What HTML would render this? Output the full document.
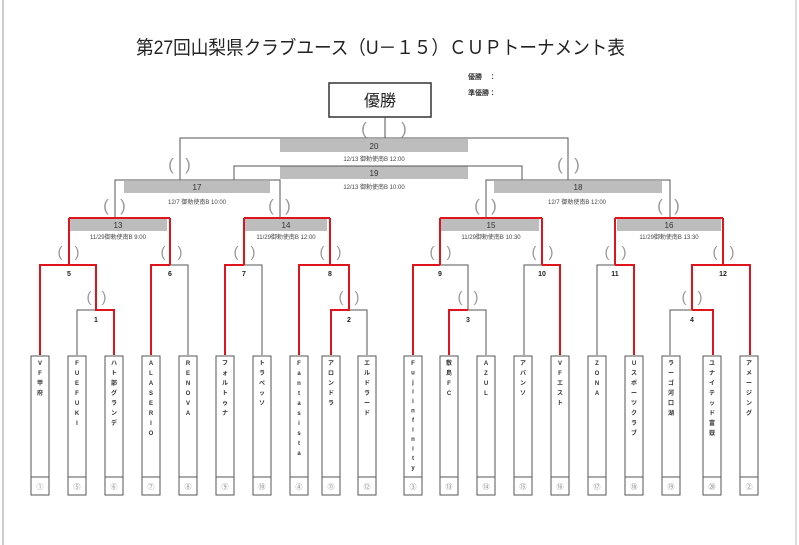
<!DOCTYPE html>
<html><head><meta charset="utf-8"><style>
html,body{margin:0;padding:0;background:#fff;}
svg{display:block;}
text{font-family:"Liberation Sans","Noto Sans CJK JP",sans-serif;}
</style></head><body>
<svg width="799" height="545" viewBox="0 0 799 545" xmlns="http://www.w3.org/2000/svg">
<rect x="0" y="0" width="799" height="545" fill="#fff"/>
<line x1="3" y1="0" x2="3" y2="545" stroke="#ccc" stroke-width="2"/>
<line x1="796" y1="0" x2="796" y2="545" stroke="#ddd" stroke-width="2"/>
<text x="136" y="54" font-size="19" textLength="489" lengthAdjust="spacingAndGlyphs" fill="#222">第27回山梨県クラブユース（U－１５）ＣＵＰトーナメント表</text>
<text x="468" y="79" font-size="7" font-weight="bold" fill="#333">優勝　：</text>
<text x="468" y="95" font-size="7" font-weight="bold" fill="#333">準優勝：</text>
<rect x="329" y="83" width="102" height="34" fill="#fff" stroke="#333" stroke-width="1.5"/>
<text x="380" y="106" font-size="16" text-anchor="middle" fill="#222">優勝</text>

<!-- bars -->
<g fill="#bdbdbd">
<rect x="280" y="139" width="188" height="13"/>
<rect x="280" y="166" width="188" height="13"/>
<rect x="124" y="181" width="146" height="12"/>
<rect x="494" y="181" width="168" height="12"/>
<rect x="70" y="219" width="97" height="12"/>
<rect x="245" y="219" width="82" height="12"/>
<rect x="441" y="219" width="98" height="12"/>
<rect x="617" y="219" width="104" height="12"/>
</g>
<g font-size="8" fill="#333" text-anchor="middle">
<text x="374" y="149">20</text>
<text x="374" y="176">19</text>
<text x="197" y="190">17</text>
<text x="578" y="190">18</text>
<text x="118" y="228">13</text>
<text x="286" y="228">14</text>
<text x="491" y="228">15</text>
<text x="669" y="228">16</text>
</g>
<g font-size="6" fill="#444" text-anchor="middle">
<text x="374" y="161">12/13 御勅使南B 12:00</text>
<text x="374" y="189">12/13 御勅使南B 10:00</text>
<text x="197" y="204">12/7 御勅使南B 10:00</text>
<text x="577" y="204">12/7 御勅使南B 12:00</text>
<text x="118" y="239">11/29御勅使南B 9:00</text>
<text x="286" y="239">11/29御勅使南B 12:00</text>
<text x="491" y="239">11/29御勅使南B 10:30</text>
<text x="669" y="239">11/29御勅使南B 13:30</text>
</g>
<g font-size="7" font-weight="bold" fill="#222" text-anchor="middle">
<text x="69" y="276">5</text><text x="96" y="322">1</text>
<text x="170" y="276">6</text><text x="244" y="276">7</text>
<text x="330" y="276">8</text><text x="349" y="322">2</text>
<text x="440" y="276">9</text><text x="468" y="322">3</text>
<text x="542" y="276">10</text><text x="615" y="276">11</text>
<text x="723" y="276">12</text><text x="692" y="322">4</text>
</g>

<!-- grey lines -->
<g stroke="#555" stroke-width="1" fill="none">
<path d="M385 117V138M180 180V138H568V180"/>
<path d="M234 180V166H522V180"/>
<path d="M115 218V180H280V218"/>
<path d="M486 218V180H670V218"/>
<path d="M77 355V310H96"/>
<path d="M170 265H188V355"/>
<path d="M244 265H262V355"/>
<path d="M349 310H367V355"/>
<path d="M440 265H468V310H486V355"/>
<path d="M524 355V265H542"/>
<path d="M597 355V265H615"/>
<path d="M670 355V310H692"/>
</g>
<!-- red lines -->
<g stroke="#e0141c" stroke-width="2" fill="none">
<path d="M69 218H170M69 218V265M170 218V265"/>
<path d="M244 218H330M244 218V265M330 218V265"/>
<path d="M440 218H542M440 218V265M542 218V265"/>
<path d="M615 218H723M615 218V265M723 218V265"/>
<path d="M40 355V265H96V310H114V355"/>
<path d="M151 355V265H170"/>
<path d="M225 355V265H244"/>
<path d="M299 355V265H349V310H331V355"/>
<path d="M413 355V265H440"/>
<path d="M449 355V310H468"/>
<path d="M542 265H560V355"/>
<path d="M615 265H634V355"/>
<path d="M692 310V265H750V355"/>
<path d="M692 310H713V355"/>
</g>

<!-- brackets -->
<g font-size="17" fill="#999" text-anchor="middle">
<text x="364" y="134">(</text><text x="404" y="134">)</text>
<text x="171" y="170">(</text><text x="188" y="170">)</text>
<text x="560" y="170">(</text><text x="577" y="170">)</text>
<text x="106" y="211">(</text><text x="123" y="211">)</text>
<text x="271" y="211">(</text><text x="288" y="211">)</text>
<text x="477" y="211">(</text><text x="494" y="211">)</text>
<text x="660" y="211">(</text><text x="677" y="211">)</text>
<g font-size="15">
<text x="60" y="257">(</text><text x="77" y="257">)</text>
<text x="163" y="257">(</text><text x="180" y="257">)</text>
<text x="236" y="257">(</text><text x="253" y="257">)</text>
<text x="322" y="257">(</text><text x="339" y="257">)</text>
<text x="432" y="257">(</text><text x="449" y="257">)</text>
<text x="534" y="257">(</text><text x="551" y="257">)</text>
<text x="607" y="257">(</text><text x="624" y="257">)</text>
<text x="715" y="257">(</text><text x="732" y="257">)</text>
<text x="89" y="302">(</text><text x="104" y="302">)</text>
<text x="341" y="302">(</text><text x="357" y="302">)</text>
<text x="460" y="302">(</text><text x="476" y="302">)</text>
<text x="684" y="302">(</text><text x="700" y="302">)</text>
</g>
</g>

<!-- team boxes -->
<g stroke="#555" stroke-width="1" fill="#fff">
<rect x="31" y="356" width="18" height="139"/><rect x="68" y="356" width="18" height="139"/>
<rect x="105" y="356" width="18" height="139"/><rect x="142" y="356" width="18" height="139"/>
<rect x="179" y="356" width="18" height="139"/><rect x="216" y="356" width="18" height="139"/>
<rect x="253" y="356" width="18" height="139"/><rect x="290" y="356" width="18" height="139"/>
<rect x="322" y="356" width="18" height="139"/><rect x="358" y="356" width="18" height="139"/>
<rect x="404" y="356" width="18" height="139"/><rect x="440" y="356" width="18" height="139"/>
<rect x="477" y="356" width="18" height="139"/><rect x="514" y="356" width="18" height="139"/>
<rect x="551" y="356" width="18" height="139"/><rect x="588" y="356" width="18" height="139"/>
<rect x="625" y="356" width="18" height="139"/><rect x="662" y="356" width="18" height="139"/>
<rect x="703" y="356" width="18" height="139"/><rect x="740" y="356" width="18" height="139"/>
</g>
<g stroke="#555" stroke-width="1">
<path d="M31 477H49M68 477H86M105 477H123M142 477H160M179 477H197M216 477H234M253 477H271M290 477H308M322 477H340M358 477H376M404 477H422M440 477H458M477 477H495M514 477H532M551 477H569M588 477H606M625 477H643M662 477H680M703 477H721M740 477H758"/>
</g>
<g font-size="7" fill="#888" text-anchor="middle">
<text x="40" y="489">①</text><text x="77" y="489">⑤</text><text x="114" y="489">⑥</text><text x="151" y="489">⑦</text><text x="188" y="489">⑧</text>
<text x="225" y="489">⑨</text><text x="262" y="489">⑩</text><text x="299" y="489">④</text><text x="331" y="489">⑪</text><text x="367" y="489">⑫</text>
<text x="413" y="489">③</text><text x="449" y="489">⑬</text><text x="486" y="489">⑭</text><text x="523" y="489">⑮</text><text x="560" y="489">⑯</text>
<text x="597" y="489">⑰</text><text x="634" y="489">⑱</text><text x="671" y="489">⑲</text><text x="712" y="489">⑳</text><text x="749" y="489">②</text>
</g>
<g font-size="6" font-weight="bold" fill="#333" text-anchor="middle">
<text x="40" y="365"><tspan x="40">V</tspan><tspan x="40" dy="10">F</tspan><tspan x="40" dy="10">甲</tspan><tspan x="40" dy="10">府</tspan></text>
<text y="365"><tspan x="77">F</tspan><tspan x="77" dy="10">U</tspan><tspan x="77" dy="10">E</tspan><tspan x="77" dy="10">F</tspan><tspan x="77" dy="10">U</tspan><tspan x="77" dy="10">K</tspan><tspan x="77" dy="10">I</tspan></text>
<text y="365"><tspan x="114">ハ</tspan><tspan x="114" dy="10">ト</tspan><tspan x="114" dy="10">部</tspan><tspan x="114" dy="10">グ</tspan><tspan x="114" dy="10">ラ</tspan><tspan x="114" dy="10">ン</tspan><tspan x="114" dy="10">デ</tspan></text>
<text y="365"><tspan x="151">A</tspan><tspan x="151" dy="10">L</tspan><tspan x="151" dy="10">A</tspan><tspan x="151" dy="10">S</tspan><tspan x="151" dy="10">E</tspan><tspan x="151" dy="10">R</tspan><tspan x="151" dy="10">I</tspan><tspan x="151" dy="10">O</tspan></text>
<text y="365"><tspan x="188">R</tspan><tspan x="188" dy="10">E</tspan><tspan x="188" dy="10">N</tspan><tspan x="188" dy="10">O</tspan><tspan x="188" dy="10">V</tspan><tspan x="188" dy="10">A</tspan></text>
<text y="365"><tspan x="225">フ</tspan><tspan x="225" dy="10">ォ</tspan><tspan x="225" dy="10">ル</tspan><tspan x="225" dy="10">ト</tspan><tspan x="225" dy="10">ゥ</tspan><tspan x="225" dy="10">ナ</tspan></text>
<text y="365"><tspan x="262">ト</tspan><tspan x="262" dy="10">ラ</tspan><tspan x="262" dy="10">ベ</tspan><tspan x="262" dy="10">ッ</tspan><tspan x="262" dy="10">ソ</tspan></text>
<text y="365"><tspan x="299">F</tspan><tspan x="299" dy="10">a</tspan><tspan x="299" dy="10">n</tspan><tspan x="299" dy="10">t</tspan><tspan x="299" dy="10">a</tspan><tspan x="299" dy="10">s</tspan><tspan x="299" dy="10">i</tspan><tspan x="299" dy="10">s</tspan><tspan x="299" dy="10">t</tspan><tspan x="299" dy="10">a</tspan></text>
<text y="365"><tspan x="331">ア</tspan><tspan x="331" dy="10">ロ</tspan><tspan x="331" dy="10">ン</tspan><tspan x="331" dy="10">ド</tspan><tspan x="331" dy="10">ラ</tspan></text>
<text y="365"><tspan x="367">エ</tspan><tspan x="367" dy="10">ル</tspan><tspan x="367" dy="10">ド</tspan><tspan x="367" dy="10">ラ</tspan><tspan x="367" dy="10">ー</tspan><tspan x="367" dy="10">ド</tspan></text>
<text y="365"><tspan x="413">F</tspan><tspan x="413" dy="9.5">u</tspan><tspan x="413" dy="9.5">j</tspan><tspan x="413" dy="9.5">i</tspan><tspan x="413" dy="9.5">i</tspan><tspan x="413" dy="9.5">n</tspan><tspan x="413" dy="9.5">f</tspan><tspan x="413" dy="9.5">i</tspan><tspan x="413" dy="9.5">n</tspan><tspan x="413" dy="9.5">i</tspan><tspan x="413" dy="9.5">t</tspan><tspan x="413" dy="9.5">y</tspan></text>
<text y="365"><tspan x="449">敷</tspan><tspan x="449" dy="10">島</tspan><tspan x="449" dy="10">F</tspan><tspan x="449" dy="10">C</tspan></text>
<text y="365"><tspan x="486">A</tspan><tspan x="486" dy="10">Z</tspan><tspan x="486" dy="10">U</tspan><tspan x="486" dy="10">L</tspan></text>
<text y="365"><tspan x="523">ア</tspan><tspan x="523" dy="10">バ</tspan><tspan x="523" dy="10">ン</tspan><tspan x="523" dy="10">ソ</tspan></text>
<text y="365"><tspan x="560">V</tspan><tspan x="560" dy="10">F</tspan><tspan x="560" dy="10">エ</tspan><tspan x="560" dy="10">ス</tspan><tspan x="560" dy="10">ト</tspan></text>
<text y="365"><tspan x="597">Z</tspan><tspan x="597" dy="10">O</tspan><tspan x="597" dy="10">N</tspan><tspan x="597" dy="10">A</tspan></text>
<text y="365"><tspan x="634">U</tspan><tspan x="634" dy="10">ス</tspan><tspan x="634" dy="10">ポ</tspan><tspan x="634" dy="10">ー</tspan><tspan x="634" dy="10">ツ</tspan><tspan x="634" dy="10">ク</tspan><tspan x="634" dy="10">ラ</tspan><tspan x="634" dy="10">ブ</tspan></text>
<text y="365"><tspan x="671">ラ</tspan><tspan x="671" dy="10">ー</tspan><tspan x="671" dy="10">ゴ</tspan><tspan x="671" dy="10">河</tspan><tspan x="671" dy="10">口</tspan><tspan x="671" dy="10">湖</tspan></text>
<text y="365"><tspan x="712">ユ</tspan><tspan x="712" dy="10">ナ</tspan><tspan x="712" dy="10">イ</tspan><tspan x="712" dy="10">テ</tspan><tspan x="712" dy="10">ッ</tspan><tspan x="712" dy="10">ド</tspan><tspan x="712" dy="10">富</tspan><tspan x="712" dy="10">嶽</tspan></text>
<text y="365"><tspan x="749">ア</tspan><tspan x="749" dy="10">メ</tspan><tspan x="749" dy="10">ー</tspan><tspan x="749" dy="10">ジ</tspan><tspan x="749" dy="10">ン</tspan><tspan x="749" dy="10">グ</tspan></text>
</g>
</svg>
</body></html>
